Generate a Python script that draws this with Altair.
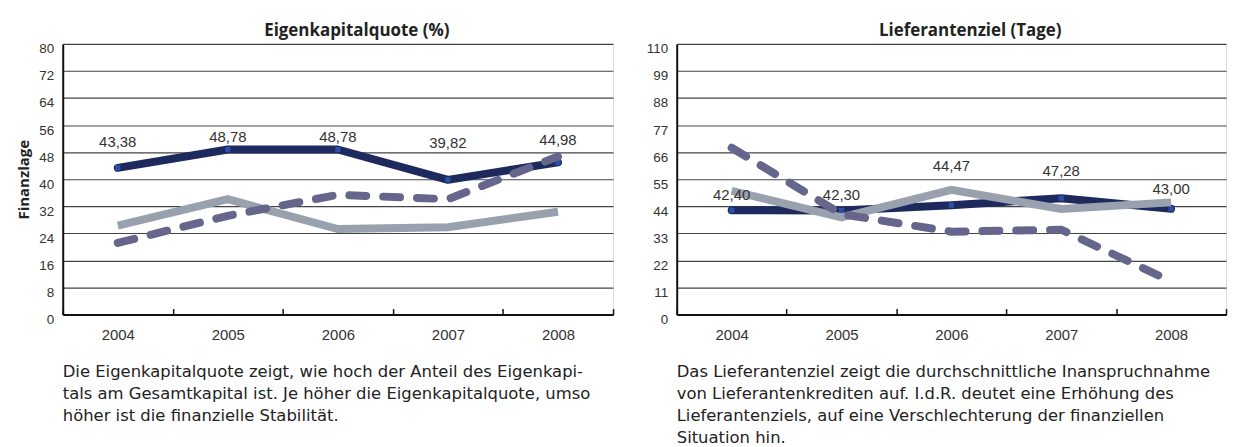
import altair as alt
import pandas as pd

years = ["2004", "2005", "2006", "2007", "2008"]

# Eigenkapitalquote (%)
ek_main = [43.38, 48.78, 48.78, 39.82, 44.98]
ek_gray = [26.3, 34.1, 25.3, 25.8, 30.4]
ek_dash = [21.2, 29.2, 35.4, 34.1, 46.7]
ek_labels = ["43,38", "48,78", "48,78", "39,82", "44,98"]
ek_label_y = [50.9, 52.4, 52.6, 50.6, 51.5]
ek_ticks = [0, 8, 16, 24, 32, 40, 48, 56, 64, 72, 80]

# Lieferantenziel (Tage)
lz_main = [42.40, 42.30, 44.47, 47.28, 43.00]
lz_gray = [50.3, 39.5, 50.7, 42.9, 45.6]
lz_dash = [67.8, 40.8, 33.7, 34.5, 13.5]
lz_labels = ["42,40", "42,30", "44,47", "47,28", "43,00"]
lz_label_y = [48.5, 48.5, 60.3, 58.2, 51.0]
lz_ticks = [0, 11, 22, 33, 44, 55, 66, 77, 88, 99, 110]

ek_desc = ("Die Eigenkapitalquote zeigt, wie hoch der Anteil des Eigenkapi-\n"
           "tals am Gesamtkapital ist. Je höher die Eigenkapitalquote, umso\n"
           "höher ist die finanzielle Stabilität.")
lz_desc = ("Das Lieferantenziel zeigt die durchschnittliche Inanspruchnahme\n"
           "von Lieferantenkrediten auf. I.d.R. deutet eine Erhöhung des\n"
           "Lieferantenziels, auf eine Verschlechterung der finanziellen\n"
           "Situation hin.")

NAVY = "#1e2a5e"
MARK = "#2b4fa6"
GRAY = "#9aa1ae"
DASH = "#66658b"
TXT_FONT = "Open Sans"
DESC_FONT = "DejaVu Sans"
H = 272


def panel(title, main, gray, dash, labels, label_y, ticks, desc, ytitle, w):
    df = pd.DataFrame({"year": years, "main": main, "gray": gray,
                       "dash": dash, "label": labels, "ly": label_y})
    xenc = alt.X("year:O", title=None,
                 scale=alt.Scale(paddingInner=0, paddingOuter=0),
                 axis=alt.Axis(labelAngle=0, tickBand="extent",
                               tickSize={"expr": "-6"}, tickColor="#111",
                               tickWidth=1.5, domainColor="#111",
                               domainWidth=2, labelFont="Liberation Sans",
                               labelFontSize=15, labelColor="#333",
                               labelPadding=19))
    yscale = alt.Scale(domain=[ticks[0], ticks[-1]], nice=False)
    yaxis = alt.Axis(values=ticks, grid=True, gridColor="#444",
                     gridWidth=1.2, ticks=False, domainColor="#111",
                     domainWidth=2, labelFont="Liberation Sans",
                     labelFontSize=13.5, labelColor="#333",
                     labelPadding=9, labelOffset=5,
                     titleFont=TXT_FONT, titleFontSize=15,
                     titleFontWeight="bold", titleColor="#222",
                     titlePadding=7)
    base = alt.Chart(df)
    ttl = ytitle if ytitle else None

    def yq(field):
        if ttl:
            return alt.Y(f"{field}:Q", scale=yscale, axis=yaxis, title=ttl)
        return alt.Y(f"{field}:Q", scale=yscale, axis=yaxis, title=None)

    l_main = base.mark_line(color=NAVY, strokeWidth=8, strokeCap="round",
                            strokeJoin="round").encode(x=xenc, y=yq("main"))
    p_main = base.mark_point(shape="square", filled=True, color=MARK,
                             size=28, opacity=1).encode(x=xenc, y=yq("main"))
    l_gray = base.mark_line(color=GRAY, strokeWidth=8, strokeCap="butt",
                            strokeJoin="miter").encode(x=xenc, y=yq("gray"))
    l_dash = base.mark_line(color=DASH, strokeWidth=8, strokeCap="round",
                            strokeDash=[17, 17]).encode(x=xenc, y=yq("dash"))
    t_lab = base.mark_text(font="Liberation Sans", fontSize=15,
                           color="#333", baseline="middle").encode(
        x=xenc, y=yq("ly"), text="label:N")
    t_desc = alt.Chart(pd.DataFrame({"d": [desc]})).mark_text(
        align="left", baseline="alphabetic", font=DESC_FONT, fontSize=16.5,
        lineHeight=22, lineBreak="\n", color="#222").encode(
        x=alt.value(0), y=alt.value(H + 63), text="d:N")

    return alt.layer(l_main, p_main, l_gray, l_dash, t_lab, t_desc).properties(
        width=w, height=H,
        title=alt.TitleParams(title, font=TXT_FONT, fontSize=17,
                              fontWeight="bold", color="#222", dx=19,
                              offset=2, frame="group"))


left = panel("Eigenkapitalquote (%)", ek_main, ek_gray, ek_dash, ek_labels,
             ek_label_y, ek_ticks, ek_desc, "Finanzlage", 553)
right = panel("Lieferantenziel (Tage)", lz_main, lz_gray, lz_dash, lz_labels,
              lz_label_y, lz_ticks, lz_desc, None, 552)

chart = alt.hconcat(left, right, spacing=30).properties(
    padding={"left": 8, "top": 12, "right": 0, "bottom": 0}
).configure_view(stroke=None).configure(background="white")

chart.save("out.html", embed_options={"renderer": "svg", "actions": False})
